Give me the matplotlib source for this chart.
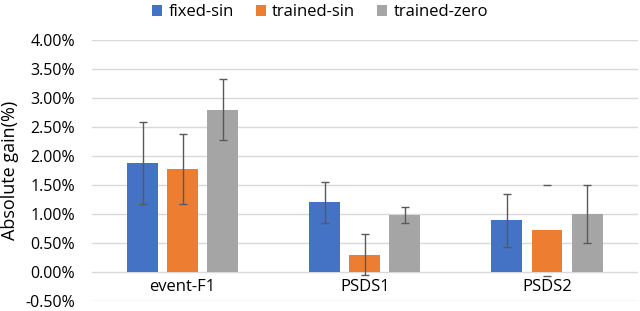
import matplotlib.pyplot as plt
import numpy as np

# data (percent)
categories = ['event-F1', 'PSDS1', 'PSDS2']
series = ['fixed-sin', 'trained-sin', 'trained-zero']
fixed_sin = [1.88, 1.20, 0.89]
trained_sin = [1.78, 0.30, 0.72]
trained_zero = [2.80, 0.99, 1.00]
fixed_sin_err = [0.70, 0.35, 0.46]
trained_sin_err = [0.60, 0.35, 0.78]
trained_zero_err = [0.53, 0.14, 0.50]
yticks = [-0.5, 0, 0.5, 1.0, 1.5, 2.0, 2.5, 3.0, 3.5, 4.0]

colors = ['#4472C4', '#ED7D31', '#A5A5A5']
plt.rcParams['font.family'] = ['Open Sans', 'DejaVu Sans']

fig = plt.figure(figsize=(6.4, 3.11), dpi=100)
ax = fig.add_axes([0.143, 0.032, 0.854, 0.839])

x = np.arange(len(categories))
w = 0.17
offs = [-0.22, 0, 0.22]
vals = [fixed_sin, trained_sin, trained_zero]
errs = [fixed_sin_err, trained_sin_err, trained_zero_err]

for i in range(3):
    ax.bar(x + offs[i], vals[i], w, color=colors[i], label=series[i], zorder=2)
    for j in range(len(categories)):
        # the PSDS2 trained-sin error bar only shows its caps in the original
        lw = 0 if (i == 1 and j == 2) else 1
        ax.errorbar(x[j] + offs[i], vals[i][j], yerr=errs[i][j], fmt='none',
                    ecolor='#595959', elinewidth=lw, capsize=3, capthick=1, zorder=3)

ax.spines['bottom'].set_position(('data', 0))
for s in ax.spines.values():
    s.set_visible(False)
ax.set_xlim(-0.5, 2.5)
ax.set_ylim(-0.5, 4.0)
ax.set_yticks(yticks)
ax.set_yticklabels(['%.2f%%' % v for v in yticks])
ax.set_xticks(x)
ax.set_xticklabels(categories)
ax.tick_params(axis='x', length=0, pad=5, labelsize=12)
ax.tick_params(axis='y', length=0, pad=12, labelsize=11.5)
ax.grid(axis='y', color='#D9D9D9', linewidth=1, zorder=0)
ax.set_axisbelow(True)
ax.set_ylabel('Absolute gain(%)', fontsize=13)
ax.yaxis.set_label_coords(-0.133, 0.5)

fig.legend(loc='upper center', bbox_to_anchor=(0.5, 1.035), ncol=3, frameon=False,
           fontsize=12, handlelength=0.6, handleheight=0.6, handletextpad=0.4,
           columnspacing=1.3)

fig.savefig('out.png', dpi=100)
